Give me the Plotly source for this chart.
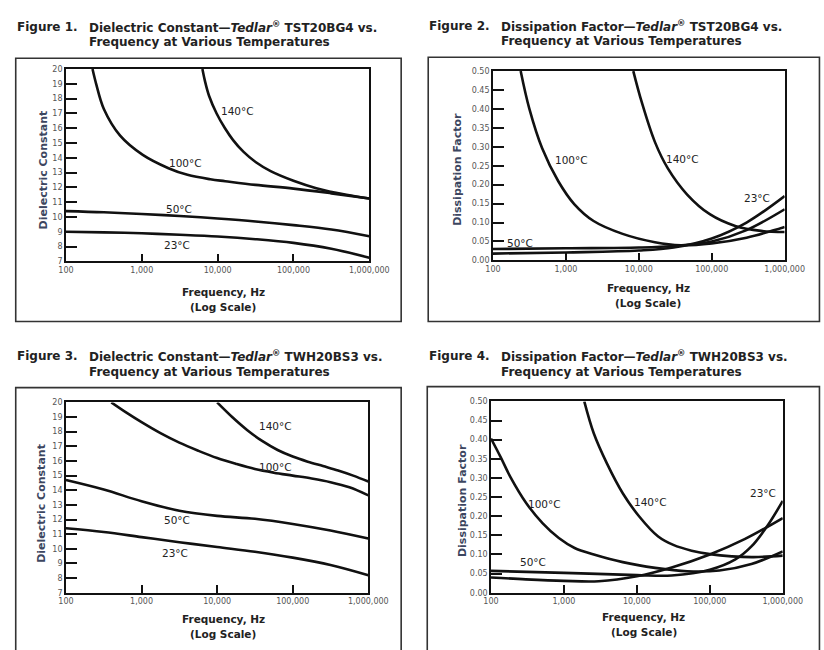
import plotly.graph_objects as go

W, H = 824, 650

# ---------------- data ----------------
x_tick_vals = [100, 1000, 10000, 100000, 1000000]
x_tick_text = ["100", "1,000", "10,000", "100,000", "1,000,000"]
dk_tick_vals = list(range(7, 21))
df_tick_vals = [0.00, 0.05, 0.10, 0.15, 0.20, 0.25, 0.30, 0.35, 0.40, 0.45, 0.50]
df_tick_text = ["0.00", "0.05", "0.10", "0.15", "0.20", "0.25", "0.30", "0.35", "0.40", "0.45", "0.50"]
temps = ["140°C", "100°C", "50°C", "23°C"]

# Figure 1: dielectric constant, TST20BG4
f1_140 = [6300, 6800, 7700, 9700, 12500, 16000, 22000, 32000, 50000, 100000, 200000, 500000, 1000000]
v1_140 = [20, 19.2, 18.2, 17.0, 16.0, 15.2, 14.4, 13.7, 13.1, 12.45, 11.95, 11.5, 11.25]
f1_100 = [224, 250, 316, 518, 1030, 2250, 4000, 8000, 12600, 31600, 100000, 316000, 1000000]
v1_100 = [20, 19.0, 17.3, 15.5, 14.2, 13.3, 12.85, 12.55, 12.42, 12.17, 11.92, 11.6, 11.25]
f1_50 = [100, 316, 1000, 3160, 10000, 31600, 100000, 316000, 1000000]
v1_50 = [10.4, 10.32, 10.2, 10.07, 9.9, 9.7, 9.45, 9.15, 8.7]
f1_23 = [100, 316, 1000, 3160, 10000, 31600, 100000, 316000, 1000000]
v1_23 = [9.0, 8.96, 8.9, 8.8, 8.68, 8.5, 8.25, 7.85, 7.25]

# Figure 2: dissipation factor, TST20BG4
f2_140 = [8400, 11000, 16600, 25000, 46000, 94000, 210000, 475000, 1000000]
v2_140 = [0.5, 0.417, 0.313, 0.243, 0.174, 0.122, 0.091, 0.078, 0.075]
f2_100 = [240, 316, 473, 787, 1310, 2400, 6000, 16600, 37500, 100000, 300000, 1000000]
v2_100 = [0.5, 0.40, 0.296, 0.209, 0.148, 0.104, 0.07, 0.048, 0.04, 0.045, 0.06, 0.088]
f2_50 = [100, 1000, 10000, 30000, 100000, 300000, 1000000]
v2_50 = [0.03, 0.032, 0.034, 0.038, 0.05, 0.08, 0.135]
f2_23 = [100, 1000, 10000, 30000, 100000, 300000, 1000000]
v2_23 = [0.018, 0.021, 0.026, 0.034, 0.058, 0.1, 0.17]

# Figure 3: dielectric constant, TWH20BS3
f3_140 = [10000, 15800, 25100, 39800, 63100, 100000, 158000, 251000, 398000, 631000, 1000000]
v3_140 = [20, 19.0, 18.1, 17.35, 16.75, 16.3, 15.95, 15.65, 15.35, 15.0, 14.6]
f3_100 = [398, 631, 1000, 1780, 3160, 5620, 10000, 17800, 31600, 56200, 100000, 178000, 316000, 562000, 1000000]
v3_100 = [20, 19.3, 18.65, 17.9, 17.25, 16.7, 16.2, 15.8, 15.45, 15.2, 15.0, 14.8, 14.55, 14.2, 13.65]
f3_50 = [100, 316, 1000, 3160, 10000, 31600, 100000, 316000, 1000000]
v3_50 = [14.7, 14.05, 13.25, 12.6, 12.25, 12.05, 11.7, 11.25, 10.7]
f3_23 = [100, 316, 1000, 3160, 10000, 31600, 100000, 316000, 1000000]
v3_23 = [11.4, 11.15, 10.8, 10.45, 10.12, 9.8, 9.4, 8.9, 8.2]

# Figure 4: dissipation factor, TWH20BS3
f4_140 = [1900, 2570, 3880, 6400, 10700, 19600, 31600, 56200, 100000, 200000, 398000, 1000000]
v4_140 = [0.5, 0.416, 0.338, 0.26, 0.2, 0.147, 0.125, 0.11, 0.101, 0.095, 0.093, 0.097]
f4_100 = [100, 135, 184, 305, 508, 850, 1400, 2570, 6400, 17800, 49000, 135000, 372000, 1000000]
v4_100 = [0.403, 0.355, 0.303, 0.234, 0.182, 0.143, 0.117, 0.1, 0.08, 0.065, 0.056, 0.058, 0.075, 0.108]
f4_50 = [100, 1000, 10000, 30000, 100000, 224000, 372000, 617000, 1000000]
v4_50 = [0.057, 0.052, 0.046, 0.045, 0.06, 0.087, 0.121, 0.175, 0.24]
f4_23 = [100, 300, 1000, 3000, 10000, 30000, 100000, 300000, 1000000]
v4_23 = [0.04, 0.035, 0.031, 0.030, 0.043, 0.066, 0.1, 0.14, 0.195]

titles = [
    ("Figure 1.", "Dielectric Constant—<i>Tedlar</i><sup>®</sup> TST20BG4 vs."),
    ("Figure 2.", "Dissipation Factor—<i>Tedlar</i><sup>®</sup> TST20BG4 vs."),
    ("Figure 3.", "Dielectric Constant—<i>Tedlar</i><sup>®</sup> TWH20BS3 vs."),
    ("Figure 4.", "Dissipation Factor—<i>Tedlar</i><sup>®</sup> TWH20BS3 vs."),
]
subtitle = "Frequency at Various Temperatures"
y_titles = ["Dielectric Constant", "Dissipation Factor", "Dielectric Constant", "Dissipation Factor"]

# ---------------- layout helpers ----------------
FONT = "DejaVu Sans"


def px(x):
    return x / W


def py(y):
    return 1 - y / H


# plot areas in pixels: (left, right, top, bottom)
areas = [(60, 374, 66, 261), (502, 804, 68, 260), (60, 373, 404, 597), (500, 802, 403, 597)]
boxes = [(8, 407, 55, 322), (435, 840, 54, 322), (8, 407, 389, 670), (434, 840, 388, 670)]
title_pos = [(7, 82, 23), (434, 508, 22), (7, 82, 357), (434, 508, 357)]
ytitle_pos = [(37, 168), (465, 168), (35, 506), (470, 504)]
xtitle_pos = [(223, 292), (663, 288), (223, 624), (658, 622)]
label_pos = [
    [(238, 108), (184, 161), (177, 208), (175, 244)],
    [(698, 157), (583, 158), (530, 242), (775, 197)],
    [(277, 428), (277, 470), (175, 523), (173, 557)],
    [(665, 505), (555, 507), (543, 566), (782, 496)],
]

series = [
    [(f1_140, v1_140), (f1_100, v1_100), (f1_50, v1_50), (f1_23, v1_23)],
    [(f2_140, v2_140), (f2_100, v2_100), (f2_50, v2_50), (f2_23, v2_23)],
    [(f3_140, v3_140), (f3_100, v3_100), (f3_50, v3_50), (f3_23, v3_23)],
    [(f4_140, v4_140), (f4_100, v4_100), (f4_50, v4_50), (f4_23, v4_23)],
]

fig = go.Figure()
layout = dict(
    width=W, height=H, margin=dict(l=0, r=0, t=0, b=0),
    paper_bgcolor="white", plot_bgcolor="white", showlegend=False,
    font=dict(family=FONT, color="#222"),
)
annotations = []
shapes = []

for i in range(4):
    k = "" if i == 0 else str(i + 1)
    l, r, t, b = areas[i]
    is_dk = i in (0, 2)
    layout["xaxis" + k] = dict(
        domain=[px(l), px(r)], anchor="y" + k, type="log", range=[2, 6],
        tickvals=x_tick_vals, ticktext=x_tick_text,
        ticks="inside", ticklen=8, tickwidth=1.5, tickcolor="#111",
        showline=True, linecolor="#111", linewidth=1.6, mirror=True,
        showgrid=False, zeroline=False,
        tickfont=dict(family=FONT, size=8, color="#555"),
        ticklabelstandoff=0, fixedrange=True,
    )
    ya = dict(
        domain=[py(b), py(t)], anchor="x" + k,
        ticks="inside", ticklen=11, tickwidth=1.5, tickcolor="#111",
        showline=True, linecolor="#111", linewidth=1.6, mirror=True,
        showgrid=False, zeroline=False,
        tickfont=dict(family=FONT, size=8, color="#555"),
        ticklabelstandoff=0, fixedrange=True,
    )
    if is_dk:
        ya.update(range=[7, 20], tickvals=dk_tick_vals)
    else:
        ya.update(range=[0, 0.5], tickvals=df_tick_vals, ticktext=df_tick_text)
    layout["yaxis" + k] = ya

    for (fx, fy), name in zip(series[i], temps):
        fig.add_trace(go.Scatter(
            x=fx, y=fy, mode="lines", name=name,
            line=dict(color="#111", width=2.6, shape="spline", smoothing=1.0),
            xaxis="x" + k, yaxis="y" + k, hoverinfo="skip",
        ))

    for name, (lx, ly) in zip(temps, label_pos[i]):
        annotations.append(dict(
            text=name, x=px(lx), y=py(ly), xref="paper", yref="paper",
            showarrow=False, xanchor="center", yanchor="middle",
            font=dict(family=FONT, size=10.5, color="#222"),
        ))

    bx0, bx1, by0, by1 = boxes[i]
    shapes.append(dict(type="rect", xref="paper", yref="paper",
                       x0=px(bx0), x1=px(bx1), y0=py(by1), y1=py(by0),
                       line=dict(color="#333", width=1.6), layer="below"))

    fxp, txp, typ = title_pos[i]
    tfont = dict(family=FONT, size=12, color="#222")
    annotations.append(dict(text="<b>" + titles[i][0] + "</b>", x=px(fxp), y=py(typ),
                            xref="paper", yref="paper", showarrow=False,
                            xanchor="left", yanchor="middle", font=tfont))
    annotations.append(dict(text="<b>" + titles[i][1] + "</b>", x=px(txp), y=py(typ),
                            xref="paper", yref="paper", showarrow=False,
                            xanchor="left", yanchor="middle", font=tfont))
    annotations.append(dict(text="<b>" + subtitle + "</b>", x=px(txp), y=py(typ + 16),
                            xref="paper", yref="paper", showarrow=False,
                            xanchor="left", yanchor="middle", font=tfont))

    yx, yy = ytitle_pos[i]
    annotations.append(dict(text="<b>" + y_titles[i] + "</b>", x=px(yx), y=py(yy),
                            xref="paper", yref="paper", showarrow=False, textangle=-90,
                            xanchor="center", yanchor="middle",
                            font=dict(family=FONT, size=11, color="#3c4660")))

    xx, xy = xtitle_pos[i]
    annotations.append(dict(text="<b>Frequency, Hz</b>", x=px(xx), y=py(xy),
                            xref="paper", yref="paper", showarrow=False,
                            xanchor="center", yanchor="middle",
                            font=dict(family=FONT, size=10.5, color="#222")))
    annotations.append(dict(text="<b>(Log Scale)</b>", x=px(xx), y=py(xy + 15),
                            xref="paper", yref="paper", showarrow=False,
                            xanchor="center", yanchor="middle",
                            font=dict(family=FONT, size=10.5, color="#222")))

layout["annotations"] = annotations
layout["shapes"] = shapes
fig.update_layout(**layout)
fig.write_html("out.html")
